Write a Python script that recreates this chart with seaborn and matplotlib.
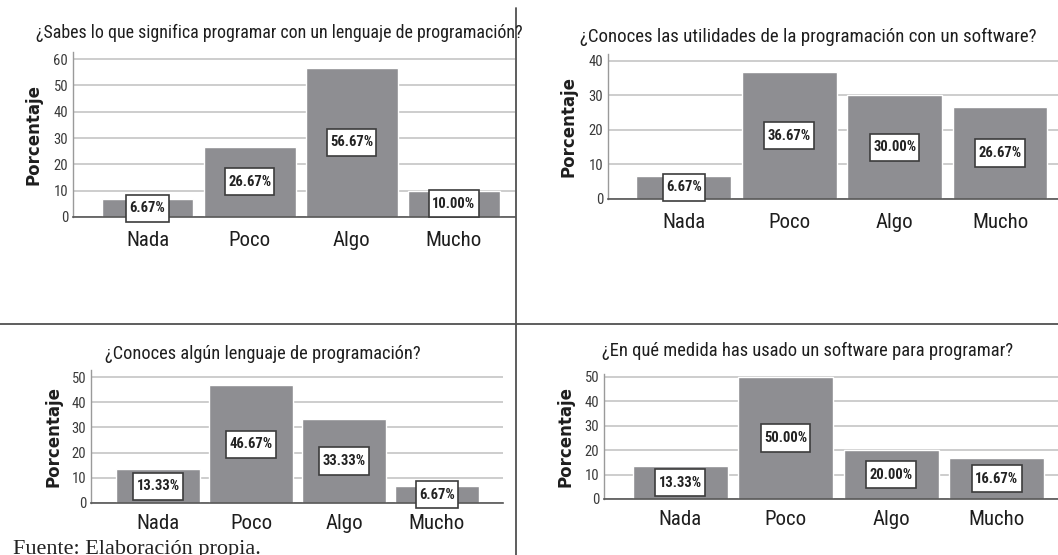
import matplotlib
matplotlib.use("Agg")
import matplotlib.pyplot as plt
import seaborn as sns
from matplotlib.path import Path
from matplotlib.lines import Line2D

# data
categories = ["Nada", "Poco", "Algo", "Mucho"]
q1_vals = [6.67, 26.67, 56.67, 10.00]
q2_vals = [6.67, 36.67, 30.00, 26.67]
q3_vals = [13.33, 46.67, 33.33, 6.67]
q4_vals = [13.33, 50.00, 20.00, 16.67]
titles = [
    "¿Sabes lo que significa programar con un lenguaje de programación?",
    "¿Conoces las utilidades de la programación con un software?",
    "¿Conoces algún lenguaje de programación?",
    "¿En qué medida has usado un software para programar?",
]
y_ticks = [
    [0, 10, 20, 30, 40, 50, 60],
    [0, 10, 20, 30, 40],
    [0, 10, 20, 30, 40, 50],
    [0, 10, 20, 30, 40, 50],
]

W, H = 1058, 555
NARROW = ["Roboto Condensed", "Roboto", "DejaVu Sans"]
BAR = "#8e8e92"

sns.set_style("white")
plt.rcParams["font.family"] = NARROW


def tall_box(x0, y0, width, height, mutation_size):
    # white label box, more padding top/bottom than at the sides
    px = 0.22 * mutation_size
    py = 0.45 * mutation_size
    x1, y1 = x0 + width + px, y0 + height + py
    x0, y0 = x0 - px, y0 - py
    return Path([(x0, y0), (x1, y0), (x1, y1), (x0, y1), (x0, y0)], closed=True)


def px_rect(left, top, right, bottom):
    return [left / W, 1 - bottom / H, (right - left) / W, (bottom - top) / H]


# axes rect in pixels, ylim, xlim, title centre + width, ylabel x, tick pad
panels = [
    dict(rect=(73, 52, 515, 217), ylim=62.7, xlim=(-0.73, 3.60), title=(279, 33, 486), ylab=-0.07, pad=10),
    dict(rect=(608, 54, 1058, 199), ylim=42.0, xlim=(-0.72, 3.55), title=(808, 37, 457), ylab=-0.068, pad=10),
    dict(rect=(91, 370, 503, 503), ylim=52.8, xlim=(-0.72, 3.71), title=(263, 354, 316), ylab=-0.068, pad=8),
    dict(rect=(604, 374, 1058, 499), ylim=51.2, xlim=(-0.72, 3.58), title=(808, 351, 409), ylab=-0.064, pad=8),
]
all_vals = [q1_vals, q2_vals, q3_vals, q4_vals]

fig = plt.figure(figsize=(W / 100, H / 100), dpi=100)
renderer = fig.canvas.get_renderer()

for i, (cfg, vals) in enumerate(zip(panels, all_vals)):
    ax = fig.add_axes(px_rect(*cfg["rect"]))
    sns.barplot(x=categories, y=vals, color=BAR, saturation=1, width=0.9, ax=ax, zorder=2)
    ax.set_xlim(*cfg["xlim"])
    ax.set_ylim(0, cfg["ylim"])
    ax.set_yticks(y_ticks[i])
    ax.yaxis.grid(True, color="#c9c9c9", lw=1.3, zorder=0)
    ax.set_axisbelow(True)
    for s in ["top", "right"]:
        ax.spines[s].set_visible(False)
    ax.spines["left"].set_color("#9a9a9a")
    ax.spines["left"].set_linewidth(1.0)
    ax.spines["bottom"].set_color("#555555")
    ax.spines["bottom"].set_linewidth(1.2)
    ax.tick_params(axis="x", length=0, pad=cfg["pad"], labelsize=15, labelcolor="#1e1e1e")
    ax.tick_params(axis="y", length=0, pad=3.5, labelsize=10.5, labelcolor="#3a3a3a")
    ax.set_ylabel("Porcentaje", family="DejaVu Sans", fontweight="bold", fontsize=12, color="#1e1e1e")
    ax.yaxis.set_label_coords(cfg["ylab"], 0.5)
    ax.set_xlabel("")

    for j, v in enumerate(vals):
        ax.text(j, v / 2, f"{v:.2f}%", ha="center", va="center", fontsize=10.5,
                fontweight="bold", color="#222222", zorder=5,
                bbox=dict(boxstyle=tall_box, fc="white", ec="#3c3c3c", lw=1.2))

    # title, scaled so its width matches the original
    tx, ty, tw = cfg["title"]
    t = fig.text(tx / W, 1 - ty / H, titles[i], ha="center", va="center", fontsize=12, color="#1e1e1e")
    w = t.get_window_extent(renderer).width
    t.set_fontsize(12 * tw / w)

# divider lines between the four panels
fig.add_artist(Line2D([516 / W, 516 / W], [0, 1 - 8 / H], color="#505050", lw=1.3))
fig.add_artist(Line2D([0, 1], [1 - 324 / H, 1 - 324 / H], color="#505050", lw=1.3))

fig.text(13 / W, 1 - 554 / H, "Fuente: Elaboración propia.", ha="left", va="baseline",
         family=["Liberation Serif", "DejaVu Serif"], fontsize=16, color="#222222")

fig.savefig("out.png", dpi=100)
